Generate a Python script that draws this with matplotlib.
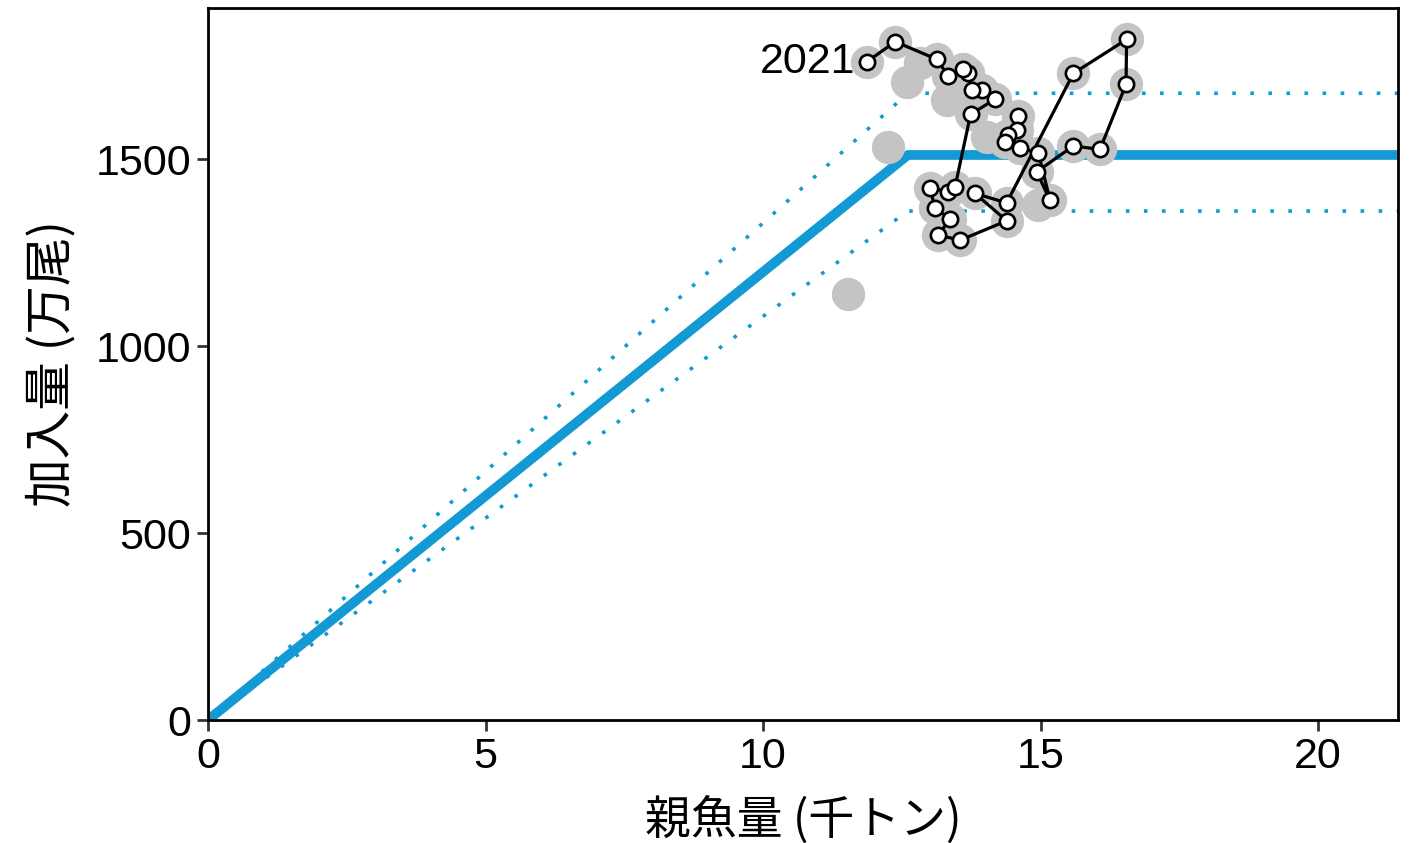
import numpy as np
import matplotlib.pyplot as plt

plt.rcParams['font.family'] = ['Liberation Sans', 'Noto Sans CJK JP', 'DejaVu Sans']

# spawning biomass (thousand t) and recruitment (10^4 fish), 1989-2021
ssb = [14.59, 14.57, 14.42, 14.36, 14.63, 14.96, 15.17, 14.93, 15.59, 16.07,
       16.54, 16.55, 15.59, 14.39, 13.82, 14.39, 13.55, 13.16, 13.37, 13.10,
       13.01, 13.33, 13.46, 13.74, 14.18, 13.95, 13.76, 13.69, 13.61, 13.34,
       13.13, 12.38, 11.87]
rec = [1615, 1578, 1564, 1546, 1529, 1517, 1390, 1466, 1535, 1526,
       1700, 1820, 1729, 1383, 1408, 1335, 1283, 1297, 1340, 1368,
       1422, 1413, 1426, 1620, 1660, 1684, 1686, 1730, 1742, 1722,
       1767, 1814, 1760]
# older years shown only as grey points
ssb_old = [11.53, 12.25, 12.59, 12.83, 13.32, 14.04, 14.95]
rec_old = [1139, 1532, 1706, 1757, 1658, 1559, 1377]

# hockey-stick fit and its band
brk = 12.61
r_max, r_hi, r_lo = 1511, 1676, 1361
x_end = 21.44

fig = plt.figure(figsize=(14.11, 8.43), dpi=100)
ax = fig.add_axes([0.1474, 0.1459, 0.8434, 0.8446])

blue = '#1399d3'
ax.plot([0, brk, x_end], [0, r_max, r_max], color=blue, lw=7,
        solid_capstyle='butt', zorder=2)
for r in (r_hi, r_lo):
    ax.plot([0, brk, x_end], [0, r, r], color=blue, lw=2.6,
            linestyle=(0, (1, 4)), zorder=2)

ax.plot(ssb_old + ssb, rec_old + rec, 'o', color='#c4c4c4', ms=24,
        mec='none', zorder=3)
ax.plot(ssb, rec, '-', color='black', lw=2.3, zorder=4)
ax.plot(ssb, rec, 'o', color='white', ms=11, mec='black', mew=1.9, zorder=5)
ax.text(ssb[-1] - 0.2, rec[-1], '2021', fontsize=31, ha='right',
        va='center', zorder=6)

ax.set_xlim(0, x_end)
ax.set_ylim(0, 1904)
ax.set_xticks([0, 5, 10, 15, 20])
ax.set_yticks([0, 500, 1000, 1500])
ax.tick_params(labelsize=31, width=2, length=8, color='#333333', pad=4)
for s in ax.spines.values():
    s.set_linewidth(2)
cjk = ['Noto Sans CJK JP', 'Liberation Sans']
ax.set_xlabel('親魚量 (千トン)', fontsize=33, family=cjk, labelpad=14)
ax.set_ylabel('加入量 (万尾)', fontsize=35, family=cjk, labelpad=14)

fig.savefig('out.png', dpi=100)
